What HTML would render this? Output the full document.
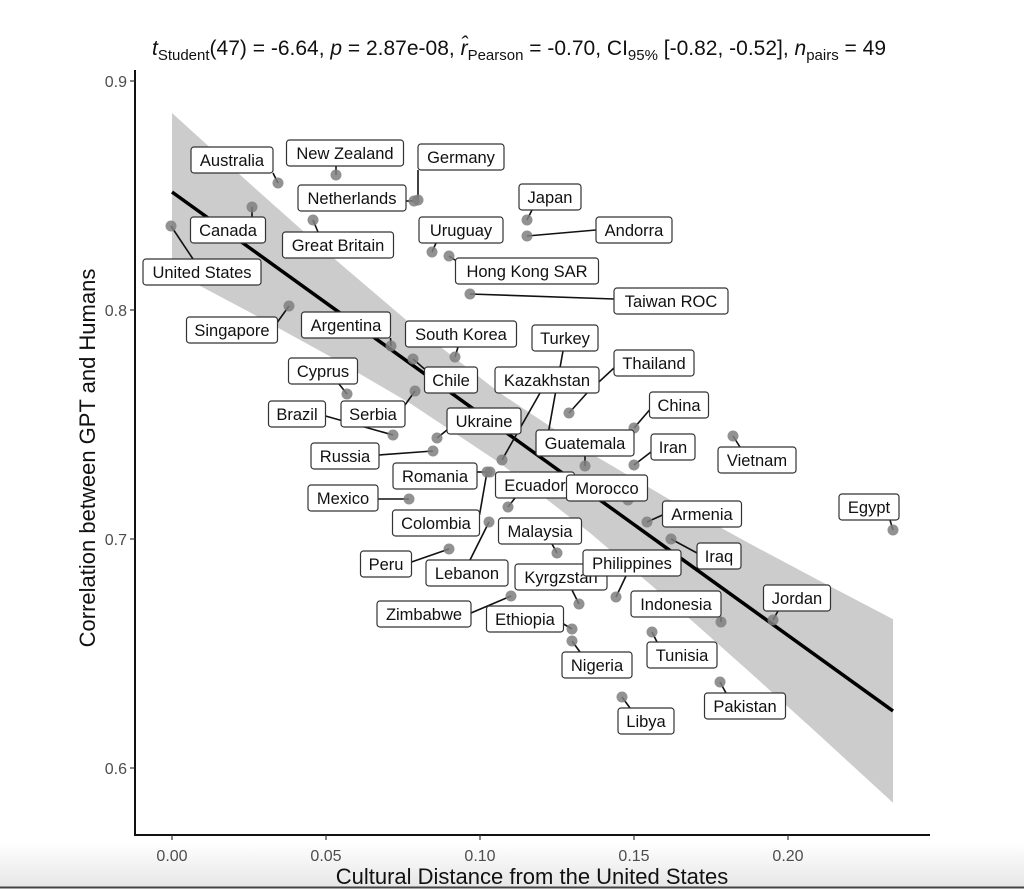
<!DOCTYPE html>
<html><head><meta charset="utf-8"><style>
html,body{margin:0;padding:0;background:#fff;}
svg{display:block;font-family:"Liberation Sans",sans-serif;}
.lb rect{fill:#fff;stroke:#333;stroke-width:1.2;}
.lb text{font-size:16.5px;fill:#111;text-anchor:middle;}
</style></head><body>
<svg width="1024" height="890" viewBox="0 0 1024 890" xmlns="http://www.w3.org/2000/svg">
<defs><linearGradient id="bg" x1="0" y1="0" x2="0" y2="1"><stop offset="0" stop-color="#fff"/><stop offset="1" stop-color="#e6e6e6"/></linearGradient></defs>
<rect x="0" y="842" width="1024" height="46" fill="url(#bg)"/>
<line x1="0" y1="887.5" x2="1024" y2="887.5" stroke="#444" stroke-width="2"/>
<text x="519" y="55" font-size="21" text-anchor="middle" fill="#111"><tspan font-style="italic">t</tspan><tspan font-size="15" dy="5">Student</tspan><tspan dy="-5">(47) = -6.64, </tspan><tspan font-style="italic">p</tspan> = 2.87e-08, <tspan font-style="italic">r̂</tspan><tspan font-size="15" dy="5">Pearson</tspan><tspan dy="-5"> = -0.70, CI</tspan><tspan font-size="15" dy="5">95%</tspan><tspan dy="-5"> [-0.82, -0.52], </tspan><tspan font-style="italic">n</tspan><tspan font-size="15" dy="5">pairs</tspan><tspan dy="-5"> = 49</tspan></text>
<path fill="#cccccc" d="M172,113 L250,183.8 L330,255 L410,323.3 L500,393.1 L590,452.9 L670,499.8 L750,543.8 L820,581 L893,619.2 L893,802.8 L820,735.8 L750,672.4 L670,601.2 L590,532.9 L500,463.1 L410,403.3 L330,356.4 L250,312.4 L172,271 Z"/>
<line x1="172" y1="192" x2="893" y2="711" stroke="#000" stroke-width="3.5"/>
<g stroke="#111" stroke-width="1.6">
<line x1="278" y1="183" x2="273" y2="173"/><line x1="336" y1="175" x2="336" y2="166"/><line x1="418" y1="200" x2="418" y2="170"/>
<line x1="414" y1="201" x2="406" y2="201"/><line x1="252" y1="207" x2="252" y2="217"/><line x1="171" y1="226" x2="193" y2="259"/>
<line x1="313" y1="220" x2="318" y2="232"/><line x1="432" y1="252" x2="436" y2="243"/><line x1="449" y1="256" x2="458" y2="262"/>
<line x1="527" y1="220" x2="532" y2="210"/><line x1="527" y1="236" x2="596" y2="230"/><line x1="470" y1="294" x2="614" y2="299"/>
<line x1="289" y1="306" x2="277.5" y2="322"/><line x1="391" y1="346" x2="390.5" y2="338"/><line x1="455" y1="357" x2="458" y2="347"/>
<line x1="413" y1="359" x2="424.5" y2="369"/><line x1="415" y1="391" x2="405" y2="405"/><line x1="347" y1="394" x2="339" y2="384"/>
<line x1="393" y1="435" x2="325.5" y2="416"/><line x1="437" y1="438" x2="447" y2="430"/><line x1="433" y1="451" x2="379" y2="455"/>
<line x1="502" y1="460" x2="540" y2="393"/><line x1="547" y1="440" x2="563" y2="351"/><line x1="569" y1="413" x2="587" y2="393"/>
<line x1="587" y1="393" x2="614" y2="368"/>
<line x1="634" y1="428" x2="649.5" y2="410"/><line x1="634" y1="465" x2="651" y2="452"/><line x1="733" y1="436" x2="740" y2="447"/>
<line x1="585" y1="466" x2="585" y2="456"/><line x1="490" y1="472" x2="477" y2="472"/><line x1="487" y1="472" x2="479.5" y2="515"/>
<line x1="508" y1="507" x2="515" y2="498"/><line x1="893" y1="530" x2="890" y2="520"/><line x1="409" y1="499" x2="378" y2="499"/>
<line x1="489" y1="522" x2="470" y2="560"/><line x1="449" y1="549" x2="411.5" y2="562"/><line x1="557" y1="553" x2="552" y2="544"/>
<line x1="647" y1="522" x2="662.5" y2="515"/><line x1="671" y1="539" x2="697" y2="553"/><line x1="579" y1="604" x2="572" y2="590"/>
<line x1="616" y1="597" x2="626" y2="576"/><line x1="511" y1="596" x2="471" y2="613"/><line x1="572" y1="629" x2="563.5" y2="624"/>
<line x1="572" y1="641" x2="580" y2="652"/><line x1="721" y1="622" x2="721" y2="617"/><line x1="652" y1="632" x2="657" y2="642"/>
<line x1="622" y1="697" x2="630" y2="708"/><line x1="720" y1="682" x2="726" y2="693"/><line x1="773" y1="620" x2="778" y2="611"/>
</g>
<g fill="#7f7f7f" fill-opacity="0.85">
<circle cx="278" cy="183" r="5.5"/><circle cx="336" cy="175" r="5.5"/><circle cx="418" cy="200" r="5.5"/><circle cx="414" cy="201" r="5.5"/>
<circle cx="252" cy="207" r="5.5"/><circle cx="171" cy="226" r="5.5"/><circle cx="313" cy="220" r="5.5"/><circle cx="432" cy="252" r="5.5"/>
<circle cx="449" cy="256" r="5.5"/><circle cx="527" cy="220" r="5.5"/><circle cx="527" cy="236" r="5.5"/><circle cx="470" cy="294" r="5.5"/>
<circle cx="289" cy="306" r="5.5"/><circle cx="391" cy="346" r="5.5"/><circle cx="455" cy="357" r="5.5"/><circle cx="413" cy="359" r="5.5"/>
<circle cx="415" cy="391" r="5.5"/><circle cx="347" cy="394" r="5.5"/><circle cx="393" cy="435" r="5.5"/><circle cx="437" cy="438" r="5.5"/>
<circle cx="433" cy="451" r="5.5"/><circle cx="502" cy="460" r="5.5"/><circle cx="547" cy="440" r="5.5"/><circle cx="569" cy="413" r="5.5"/>
<circle cx="634" cy="428" r="5.5"/><circle cx="634" cy="465" r="5.5"/><circle cx="733" cy="436" r="5.5"/><circle cx="585" cy="466" r="5.5"/>
<circle cx="490" cy="472" r="5.5"/><circle cx="487" cy="472" r="5.5"/><circle cx="508" cy="507" r="5.5"/><circle cx="628" cy="500" r="5.5"/>
<circle cx="893" cy="530" r="5.5"/><circle cx="409" cy="499" r="5.5"/><circle cx="489" cy="522" r="5.5"/><circle cx="449" cy="549" r="5.5"/>
<circle cx="557" cy="553" r="5.5"/><circle cx="647" cy="522" r="5.5"/><circle cx="671" cy="539" r="5.5"/><circle cx="579" cy="604" r="5.5"/>
<circle cx="616" cy="597" r="5.5"/><circle cx="511" cy="596" r="5.5"/><circle cx="572" cy="629" r="5.5"/><circle cx="572" cy="641" r="5.5"/>
<circle cx="721" cy="622" r="5.5"/><circle cx="652" cy="632" r="5.5"/><circle cx="622" cy="697" r="5.5"/><circle cx="720" cy="682" r="5.5"/>
<circle cx="773" cy="620" r="5.5"/>
</g>
<g class="lb">
<rect x="191" y="147" width="82" height="26" rx="3"/><text x="232" y="166">Australia</text>
<rect x="286.5" y="140" width="117" height="26" rx="3"/><text x="345" y="159">New Zealand</text>
<rect x="418" y="144" width="86" height="26" rx="3"/><text x="461" y="163">Germany</text>
<rect x="298" y="185" width="108" height="26" rx="3"/><text x="352" y="204">Netherlands</text>
<rect x="190.5" y="217" width="75" height="26" rx="3"/><text x="228" y="236">Canada</text>
<rect x="143" y="259" width="118" height="26" rx="3"/><text x="202" y="278">United States</text>
<rect x="282.5" y="232" width="111" height="26" rx="3"/><text x="338" y="251">Great Britain</text>
<rect x="419" y="217" width="84" height="26" rx="3"/><text x="461" y="236">Uruguay</text>
<rect x="455.5" y="258" width="143" height="26" rx="3"/><text x="527" y="277">Hong Kong SAR</text>
<rect x="519" y="184" width="62" height="26" rx="3"/><text x="550" y="203">Japan</text>
<rect x="596" y="217" width="76" height="26" rx="3"/><text x="634" y="236">Andorra</text>
<rect x="614" y="288" width="114" height="26" rx="3"/><text x="671" y="307">Taiwan ROC</text>
<rect x="186.5" y="317" width="91" height="26" rx="3"/><text x="232" y="336">Singapore</text>
<rect x="301.5" y="312" width="89" height="26" rx="3"/><text x="346" y="331">Argentina</text>
<rect x="405.5" y="321" width="111" height="26" rx="3"/><text x="461" y="340">South Korea</text>
<rect x="532" y="325" width="66" height="26" rx="3"/><text x="565" y="344">Turkey</text>
<rect x="614" y="350" width="80" height="26" rx="3"/><text x="654" y="369">Thailand</text>
<rect x="288.5" y="358" width="69" height="26" rx="3"/><text x="323" y="377">Cyprus</text>
<rect x="424.5" y="367" width="53" height="26" rx="3"/><text x="451" y="386">Chile</text>
<rect x="495" y="367" width="104" height="26" rx="3"/><text x="547" y="386">Kazakhstan</text>
<rect x="649.5" y="392" width="59" height="26" rx="3"/><text x="679" y="411">China</text>
<rect x="268.5" y="401" width="57" height="26" rx="3"/><text x="297" y="420">Brazil</text>
<rect x="341" y="401" width="64" height="26" rx="3"/><text x="373" y="420">Serbia</text>
<rect x="447" y="408" width="74" height="26" rx="3"/><text x="484" y="427">Ukraine</text>
<rect x="536" y="430" width="98" height="26" rx="3"/><text x="585" y="449">Guatemala</text>
<rect x="651" y="434" width="44" height="26" rx="3"/><text x="673" y="453">Iran</text>
<rect x="311" y="443" width="68" height="26" rx="3"/><text x="345" y="462">Russia</text>
<rect x="718" y="447" width="78" height="26" rx="3"/><text x="757" y="466">Vietnam</text>
<rect x="393" y="463" width="84" height="26" rx="3"/><text x="435" y="482">Romania</text>
<rect x="495.5" y="472" width="79" height="26" rx="3"/><text x="535" y="491">Ecuador</text>
<rect x="566.5" y="475" width="81" height="26" rx="3"/><text x="607" y="494">Morocco</text>
<rect x="308" y="485" width="70" height="26" rx="3"/><text x="343" y="504">Mexico</text>
<rect x="839" y="494" width="60" height="26" rx="3"/><text x="869" y="513">Egypt</text>
<rect x="662.5" y="501" width="79" height="26" rx="3"/><text x="702" y="520">Armenia</text>
<rect x="392.5" y="510" width="87" height="26" rx="3"/><text x="436" y="529">Colombia</text>
<rect x="498.5" y="518" width="83" height="26" rx="3"/><text x="540" y="537">Malaysia</text>
<rect x="697" y="543" width="44" height="26" rx="3"/><text x="719" y="562">Iraq</text>
<rect x="360.5" y="551" width="51" height="26" rx="3"/><text x="386" y="570">Peru</text>
<rect x="426" y="560" width="82" height="26" rx="3"/><text x="467" y="579">Lebanon</text>
<rect x="515" y="564" width="92" height="26" rx="3"/><text x="561" y="583">Kyrgzstan</text>
<rect x="583" y="550" width="98" height="26" rx="3"/><text x="632" y="569">Philippines</text>
<rect x="763.5" y="585" width="67" height="26" rx="3"/><text x="797" y="604">Jordan</text>
<rect x="631" y="591" width="90" height="26" rx="3"/><text x="676" y="610">Indonesia</text>
<rect x="377" y="601" width="94" height="26" rx="3"/><text x="424" y="620">Zimbabwe</text>
<rect x="486.5" y="606" width="77" height="26" rx="3"/><text x="525" y="625">Ethiopia</text>
<rect x="647" y="642" width="70" height="26" rx="3"/><text x="682" y="661">Tunisia</text>
<rect x="562" y="652" width="70" height="26" rx="3"/><text x="597" y="671">Nigeria</text>
<rect x="704.5" y="693" width="81" height="26" rx="3"/><text x="745" y="712">Pakistan</text>
<rect x="618" y="708" width="56" height="26" rx="3"/><text x="646" y="727">Libya</text>
</g>
<line x1="135" y1="70" x2="135" y2="836" stroke="#111" stroke-width="2"/>
<line x1="134" y1="835" x2="930" y2="835" stroke="#111" stroke-width="2"/>
<g stroke="#333" stroke-width="1.2">
<line x1="130" y1="81" x2="135" y2="81"/><line x1="130" y1="310" x2="135" y2="310"/><line x1="130" y1="539" x2="135" y2="539"/><line x1="130" y1="768" x2="135" y2="768"/>
<line x1="172" y1="835" x2="172" y2="840"/><line x1="326" y1="835" x2="326" y2="840"/><line x1="480" y1="835" x2="480" y2="840"/><line x1="634" y1="835" x2="634" y2="840"/><line x1="788" y1="835" x2="788" y2="840"/>
</g>
<g font-size="16" fill="#4d4d4d" text-anchor="end">
<text x="127" y="87">0.9</text><text x="127" y="316">0.8</text><text x="127" y="545">0.7</text><text x="127" y="774">0.6</text>
</g>
<g font-size="16" fill="#4d4d4d" text-anchor="middle">
<text x="172" y="861">0.00</text><text x="326" y="861">0.05</text><text x="480" y="861">0.10</text><text x="634" y="861">0.15</text><text x="788" y="861">0.20</text>
</g>
<text x="532" y="884" font-size="22" text-anchor="middle" fill="#111">Cultural Distance from the United States</text>
<text transform="translate(95,458) rotate(-90)" font-size="22" text-anchor="middle" fill="#111">Correlation between GPT and Humans</text>
</svg>
</body></html>
